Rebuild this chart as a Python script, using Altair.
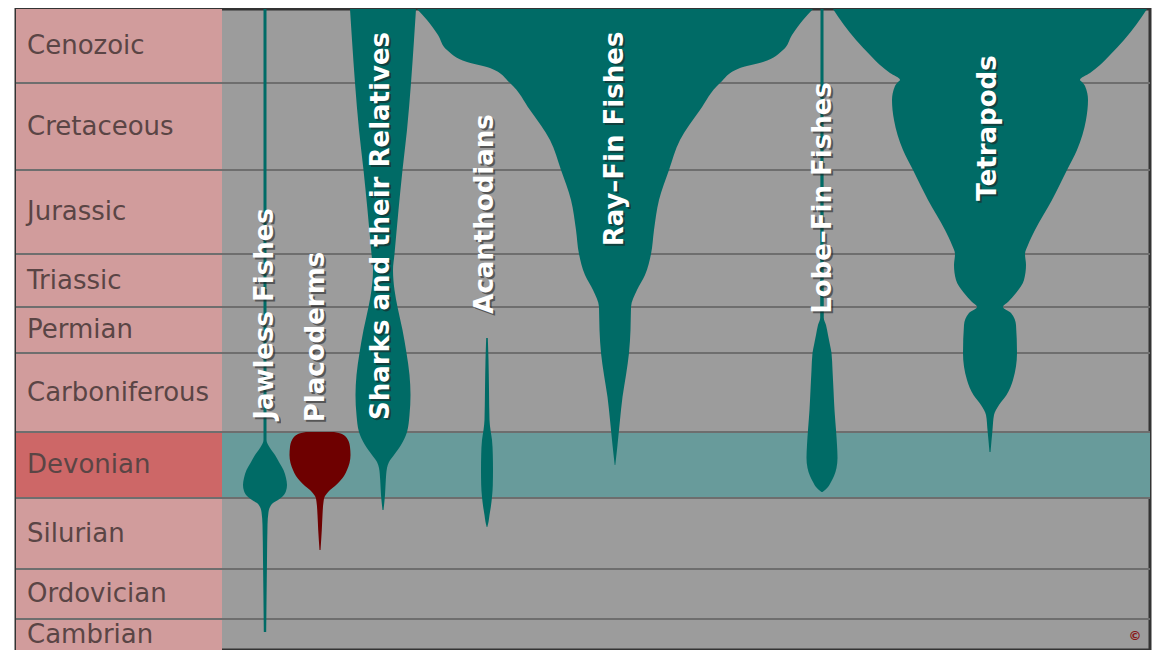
import altair as alt
import pandas as pd

# ---------------- data ----------------
periods = ["Cenozoic", "Cretaceous", "Jurassic", "Triassic", "Permian",
           "Carboniferous", "Devonian", "Silurian", "Ordovician", "Cambrian"]
# period boundaries along the (downward) time column, top -> bottom
bounds = [9, 83, 170, 254, 307, 353, 432, 498, 569, 619, 650]
highlight = "Devonian"

taxa = ["Jawless Fishes", "Placoderms", "Sharks and their Relatives",
        "Acanthodians", "Ray–Fin Fishes", "Lobe–Fin Fishes", "Tetrapods"]
centers = [265, 320, 383, 487, 615, 822, 990]
taxon_colors = ["#006b66", "#6e0000", "#006b66", "#006b66", "#006b66", "#006b66", "#006b66"]

jawless_y = [9, 440, 448, 455, 463, 470, 478, 485, 491, 496, 500, 503, 507, 512, 525, 560, 632]
jawless_w = [1.5, 1.5, 5, 10, 14.5, 18.5, 21, 22, 21, 18, 13, 8, 5, 3.5, 2.5, 2, 1.2]

placo_y = [432, 434, 440, 447, 455, 463, 470, 476, 481, 486, 490, 494, 497, 502, 515, 530, 550]
placo_w = [14, 22, 28, 30, 30.5, 29.5, 27, 24, 20, 15, 10, 6.5, 4.5, 3.5, 2.5, 1.8, 0.5]

sharks_y = [9, 40, 83, 130, 170, 210, 254, 270, 290, 307, 330, 353, 375, 395, 415, 432, 445, 455, 462, 468, 480, 495, 510]
sharks_w = [33, 31, 28, 24, 19.5, 15.5, 11.5, 10, 11.5, 14.5, 19.5, 23.5, 26.5, 27.5, 26.5, 24, 18, 11, 6, 4, 2.8, 2, 0.5]

acanth_y = [338, 360, 390, 420, 430, 440, 455, 470, 485, 497, 507, 515, 522, 527]
acanth_w = [0.8, 1.5, 2, 2.5, 3.5, 5, 5.8, 6, 5.8, 5, 3.8, 2.5, 1.5, 0.3]

rayfin_y = [9, 20, 35, 50, 62, 68, 83, 110, 140, 170, 200, 230, 254, 275, 290, 307, 330, 353, 375, 397, 420, 445, 465]
rayfin_w = [198, 188, 177, 168, 148, 125, 105, 85, 65, 54, 44, 39, 36, 30, 22, 16, 15.5, 14, 11, 7.5, 5, 2.5, 0.3]

lobe_y = [9, 318, 325, 335, 345, 353, 370, 390, 410, 430, 445, 458, 468, 476, 482, 487, 490, 492]
lobe_w = [1.5, 1.8, 4, 6, 8, 9.5, 10.5, 11.5, 12.5, 14, 15, 15.5, 14.5, 12, 9, 6, 3, 0.5]

tetra_y = [9, 25, 40, 55, 65, 73, 80, 82, 86, 100, 120, 150, 170, 200, 230, 245, 254, 265, 280, 293,
           302, 307, 313, 325, 353, 380, 395, 405, 415, 430, 452]
tetra_w = [157, 146, 134, 120, 110, 100, 90, 92, 95, 98, 96, 87, 77, 62, 45, 38, 35, 36, 34, 26,
           18, 13, 21, 26, 27, 23, 16.5, 9, 4, 2.5, 0.5]

shapes = [(jawless_y, jawless_w), (placo_y, placo_w), (sharks_y, sharks_w), (acanth_y, acanth_w),
          (rayfin_y, rayfin_w), (lobe_y, lobe_w), (tetra_y, tetra_w)]

# label placement (centre of each rotated label)
label_x = [265, 316, 381, 485, 615, 823, 988]
label_y = [314, 337, 226, 214, 139, 198, 128]

# ---------------- tables ----------------
LEFT, DIV, RIGHT = 16, 222, 1150

prow = []
for i, p in enumerate(periods):
    prow.append({"period": p, "top": bounds[i], "bottom": bounds[i + 1],
                 "mid": (bounds[i] + bounds[i + 1]) / 2,
                 "x0": LEFT, "x1": DIV, "xt": 27,
                 "fill": "#cd6767" if p == highlight else "#d19c9c"})
pdf = pd.DataFrame(prow)

hi = periods.index(highlight)
band = pd.DataFrame([{"top": bounds[hi], "bottom": bounds[hi + 1], "x0": DIV, "x1": RIGHT}])
rules = pd.DataFrame([{"y": b, "x0": LEFT, "x1": RIGHT} for b in bounds[1:-1]])

xs = alt.Scale(domain=[LEFT, RIGHT], nice=False, zero=False)
ysc = alt.Scale(domain=[bounds[0], bounds[-1]], reverse=True, nice=False, zero=False)

spindle_layers = []
for t, c, col, (ys_, ws_) in zip(taxa, centers, taxon_colors, shapes):
    d = pd.DataFrame({"y": ys_, "xl": [c - w for w in ws_], "xr": [c + w for w in ws_]})
    spindle_layers.append(
        alt.Chart(d).mark_area(orient="horizontal", interpolate="monotone",
                               color=col, opacity=1).encode(
            y=alt.Y("y:Q", scale=ysc, axis=None),
            x=alt.X("xl:Q", scale=xs, axis=None), x2="xr:Q"))

ldf = pd.DataFrame({"taxon": taxa, "x": label_x, "y": label_y})
cdf = pd.DataFrame([{"t": "©", "x": 1135, "y": 636}])

base_period = alt.Chart(pdf)
period_rects = base_period.mark_rect().encode(
    x=alt.X("x0:Q", scale=xs, axis=None), x2="x1:Q",
    y=alt.Y("top:Q", scale=ysc, axis=None), y2="bottom:Q",
    fill=alt.Fill("fill:N", scale=None))

band_rect = alt.Chart(band).mark_rect(color="#689b9b").encode(
    x=alt.X("x0:Q", scale=xs, axis=None), x2="x1:Q",
    y=alt.Y("top:Q", scale=ysc, axis=None), y2="bottom:Q")

grid = alt.Chart(rules).mark_rule(color="#6e6e6e", strokeWidth=2).encode(
    x=alt.X("x0:Q", scale=xs, axis=None), x2="x1:Q",
    y=alt.Y("y:Q", scale=ysc, axis=None))

txt_kw = dict(angle=270, font="DejaVu Sans", fontWeight="bold", fontSize=26,
              align="center", baseline="middle")
shadow = alt.Chart(ldf).mark_text(color="#1e1e1e", opacity=0.55, dx=-2, dy=2, **txt_kw).encode(
    x=alt.X("x:Q", scale=xs, axis=None), y=alt.Y("y:Q", scale=ysc, axis=None), text="taxon:N")
labels = alt.Chart(ldf).mark_text(color="white", **txt_kw).encode(
    x=alt.X("x:Q", scale=xs, axis=None), y=alt.Y("y:Q", scale=ysc, axis=None), text="taxon:N")

period_text = base_period.mark_text(font="DejaVu Sans", fontSize=26, align="left",
                                    baseline="middle", color="#5a4545").encode(
    x=alt.X("xt:Q", scale=xs, axis=None), y=alt.Y("mid:Q", scale=ysc, axis=None),
    text="period:N")

copy_txt = alt.Chart(cdf).mark_text(font="DejaVu Sans", fontSize=13, color="#8a1a1a",
                                    fontWeight="bold").encode(
    x=alt.X("x:Q", scale=xs, axis=None), y=alt.Y("y:Q", scale=ysc, axis=None), text="t:N")

chart = alt.layer(period_rects, band_rect, grid, *spindle_layers, shadow, labels,
                  period_text, copy_txt).properties(
    width=RIGHT - LEFT, height=bounds[-1] - bounds[0],
    padding={"left": 8, "top": 1, "right": 5, "bottom": 0},
    autosize=alt.AutoSizeParams(type="none"),
    background="white",
).configure_view(stroke="#333333", strokeWidth=3, fill="#9c9c9c")

chart.save("out.html", embed_options={"renderer": "svg", "actions": False})
